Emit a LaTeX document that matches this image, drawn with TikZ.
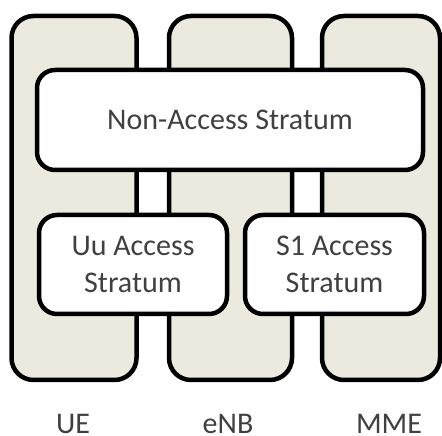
\documentclass[tikz,border=0pt]{standalone}
\usepackage{fontspec}
\setmainfont{Carlito}
\begin{document}
\begin{tikzpicture}[x=1pt,y=1pt,
  column/.style={draw=black, line width=4.5pt, fill=colfill, rounded corners=22pt,
    inner sep=0pt, minimum height=364pt},
  layer/.style={draw=black, line width=4.5pt, fill=white, rounded corners=18pt,
    inner sep=0pt, text=txtgray, align=center, font=\fontsize{30}{37}\selectfont},
  entity/.style={text=txtgray, anchor=base, inner sep=0pt, font=\fontsize{30}{37}\selectfont}]
  \definecolor{colfill}{HTML}{ECE9DF}
  \definecolor{txtgray}{HTML}{404040}
  \useasboundingbox (0,0) rectangle (442,436);
  % network elements
  \node[column, minimum width=125pt] (ue)  at (74,238) {};
  \node[column, minimum width=123pt] (enb) at (230.5,238) {};
  \node[column, minimum width=118pt] (mme) at (381,238) {};
  % protocol strata
  \node[layer, minimum width=386pt, minimum height=100pt] (nas) at (230,316) {Non-Access Stratum};
  \node[layer, minimum width=188pt, minimum height=99pt] (uu) at (133,171.5) {Uu Access\\Stratum};
  \node[layer, minimum width=179pt, minimum height=99pt] (s1) at (334.5,171.5) {S1 Access\\Stratum};
  % labels
  \node[entity] (uelabel)  at (73,2) {UE};
  \node[entity] (enblabel) at (228,2) {eNB};
  \node[entity] (mmelabel) at (389,2) {MME};
\end{tikzpicture}
\end{document}
